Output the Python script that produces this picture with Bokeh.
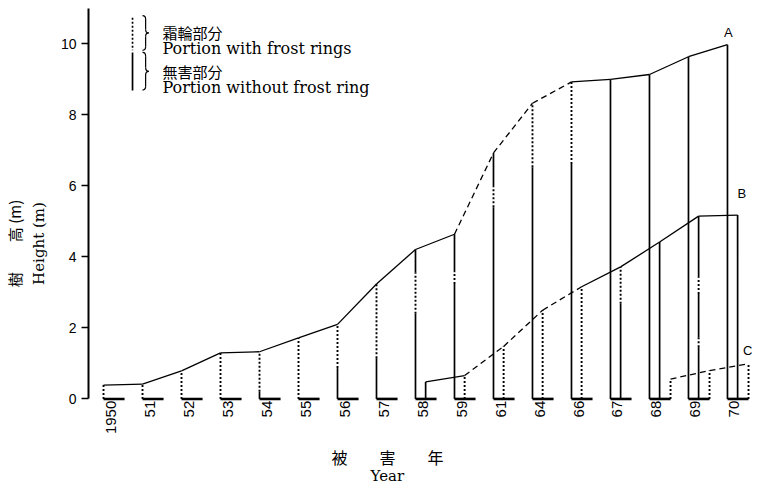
import math
from bokeh.plotting import figure
from bokeh.models import Range1d, LinearAxis, FixedTicker, ColumnDataSource
from bokeh.core.properties import value
from bokeh.embed import file_html
from bokeh.resources import INLINE

# ---------------- data ----------------
years = ["1950", "51", "52", "53", "54", "55", "56", "57", "58", "59",
         "61", "64", "66", "67", "68", "69", "70"]

# tree heights (m) at each damage year
height_A = [0.39, 0.42, 0.79, 1.30, 1.33, 1.72, 2.10, 3.24, 4.21, 4.64,
            6.93, 8.33, 8.93, 9.00, 9.14, 9.64, 9.98]
height_B = [0.48, 0.66, 1.48, 2.50, 3.16, 3.72, 4.42, 5.15, 5.18]   # from 1958
height_C = [0.56, 0.80, 0.99]                                       # from 1968
first_B = "58"
first_C = "68"

# portions of the stem with frost rings (from, to) in m, per year
frost_A = [[(0, 0.39)], [(0, 0.42)], [(0, 0.79)], [(0, 1.30)], [(0.20, 1.33)],
           [(0, 1.72)], [(0.87, 2.10)], [(1.15, 3.24)], [(2.40, 3.57)],
           [(3.24, 3.57)], [(5.40, 5.97)], [(6.53, 8.33)], [(6.62, 8.93)],
           [], [], [], []]
frost_B = [[], [(0, 0.66)], [(0, 1.48)], [(0, 2.50)], [(0, 3.16)],
           [(2.68, 3.72)], [], [(1.46, 1.74), (2.96, 3.43)], []]
frost_C = [[(0, 0.56)], [(0, 0.80)], [(0, 0.99)]]

# style of the line joining the tops between consecutive years
top_style_A = ["solid"] * 9 + ["dashed"] * 3 + ["solid"] * 4
top_style_B = ["solid", "dashed", "dashed", "dashed", "solid", "solid", "solid", "solid"]
top_style_C = ["dashed", "dashed"]

y_ticks = [0, 2, 4, 6, 8, 10]

# ---------------- layout constants ----------------
OFF_A, OFF_B, OFF_C = 0.0, 0.26, 0.54
DOT = "2 2"
DASH = "6 4"
SERIF = "DejaVu Serif"
JP = "Noto Sans CJK JP"

p = figure(width=757, height=486, output_backend="svg", toolbar_location=None,
           x_range=Range1d(-0.385, 16.77), y_range=Range1d(-2.466, 11.224),
           x_axis_location=None, min_border_left=88, min_border_right=0,
           min_border_top=0, min_border_bottom=0)
p.grid.visible = False
p.outline_line_color = None
p.background_fill_color = "white"
p.border_fill_color = "white"

# ---- y axis ----
ya = p.yaxis[0]
ya.ticker = FixedTicker(ticks=y_ticks)
ya.bounds = (0, 11.0)
ya.axis_line_width = 2
ya.axis_line_color = "black"
ya.major_tick_out = 7
ya.major_tick_in = 0
ya.major_tick_line_width = 1.5
ya.minor_tick_out = 0
ya.minor_tick_in = 0
ya.minor_tick_line_color = None
ya.major_label_standoff = 5
ya.major_label_text_font = "Liberation Sans"
ya.major_label_text_font_size = "14px"
ya.major_label_text_color = "black"


def label_axis(text, font, size, standoff):
    ax = LinearAxis(ticker=FixedTicker(ticks=[]), axis_line_color=None,
                    major_tick_line_color=None, minor_tick_line_color=None,
                    major_tick_out=0, major_tick_in=0, minor_tick_out=0, minor_tick_in=0,
                    major_label_standoff=0, major_label_text_font_size="0px",
                    axis_label=text, axis_label_standoff=standoff,
                    axis_label_text_font=font, axis_label_text_font_size=size,
                    axis_label_text_font_style="normal", axis_label_text_color="#000000",
                    bounds=(-0.6, 9.4))
    p.add_layout(ax, "left")


label_axis("Height (m)", SERIF, "15px", 10)
label_axis("樹　　高 (m)", JP, "15px", 2)


# ---- verticals ----
def split(h, frost):
    solid, dotted = [], []
    cur = 0.0
    for a, b in sorted(frost):
        if a > cur:
            solid.append((cur, a))
        dotted.append((a, b))
        cur = b
    if cur < h:
        solid.append((cur, h))
    return solid, dotted


sol = dict(x0=[], y0=[], x1=[], y1=[])
dot = dict(x0=[], y0=[], x1=[], y1=[])


def add_tree(start, heights, frosts, off):
    for k, (h, fr) in enumerate(zip(heights, frosts)):
        x = start + k + off
        s, d = split(h, fr)
        for a, b in s:
            sol["x0"].append(x); sol["x1"].append(x); sol["y0"].append(a); sol["y1"].append(b)
        for a, b in d:
            dot["x0"].append(x); dot["x1"].append(x); dot["y0"].append(a); dot["y1"].append(b)


iB = years.index(first_B)
iC = years.index(first_C)
add_tree(0, height_A, frost_A, OFF_A)
add_tree(iB, height_B, frost_B, OFF_B)
add_tree(iC, height_C, frost_C, OFF_C)

p.segment(x0="x0", y0="y0", x1="x1", y1="y1", source=ColumnDataSource(sol),
          line_color="black", line_width=1.7)
p.segment(x0="x0", y0="y0", x1="x1", y1="y1", source=ColumnDataSource(dot),
          line_color="black", line_width=1.9, line_dash=DOT)

# ---- top connecting lines ----
tops = {"solid": dict(x0=[], y0=[], x1=[], y1=[]), "dashed": dict(x0=[], y0=[], x1=[], y1=[])}


def add_tops(start, heights, styles, off):
    for k, st in enumerate(styles):
        d = tops[st]
        d["x0"].append(start + k + off); d["y0"].append(heights[k])
        d["x1"].append(start + k + 1 + off); d["y1"].append(heights[k + 1])


add_tops(0, height_A, top_style_A, OFF_A)
add_tops(iB, height_B, top_style_B, OFF_B)
add_tops(iC, height_C, top_style_C, OFF_C)
p.segment(x0="x0", y0="y0", x1="x1", y1="y1", source=ColumnDataSource(tops["solid"]),
          line_color="black", line_width=1.3)
p.segment(x0="x0", y0="y0", x1="x1", y1="y1", source=ColumnDataSource(tops["dashed"]),
          line_color="black", line_width=1.3, line_dash=DASH)

# ---- base lines ----
xs = list(range(len(years)))
p.segment(x0=xs, y0=[0] * len(xs), x1=[x + OFF_C for x in xs], y1=[0] * len(xs),
          line_color="black", line_width=2.6)

# ---- tree letters ----
p.text(x=[len(years) - 1 + OFF_A + 0.02], y=[height_A[-1] + 0.35], text=["A"],
       text_font=value("Liberation Sans"), text_font_size="13px", text_align="center",
       text_baseline="middle", text_color="black")
p.text(x=[len(years) - 1 + 0.37], y=[height_B[-1] + 0.6], text=["B"],
       text_font=value("Liberation Sans"), text_font_size="13px", text_align="center",
       text_baseline="middle", text_color="black")
p.text(x=[len(years) - 1 + 0.52], y=[height_C[-1] + 0.38], text=["C"],
       text_font=value("Liberation Sans"), text_font_size="13px", text_align="center",
       text_baseline="middle", text_color="black")

# ---- x tick labels (vertical) ----
p.text(x=[x + 0.18 for x in xs], y=[-0.05] * len(xs), text=years, angle=math.pi / 2,
       text_font=value("Liberation Sans"), text_font_size="15px", text_align="right",
       text_baseline="middle", text_color="black")
p.text(x=[7.28], y=[-1.63], text=["被　　害　　年"], text_font=value(JP),
       text_font_size="16px", text_align="center", text_baseline="middle", text_color="black")
p.text(x=[7.28], y=[-2.18], text=["Year"], text_font=value(SERIF),
       text_font_size="15px", text_align="center", text_baseline="middle", text_color="black")

# ---- legend ----
LX = 0.744
p.segment(x0=[LX], y0=[10.74], x1=[LX], y1=[9.82], line_color="black", line_width=1.7, line_dash=DOT)
p.segment(x0=[LX], y0=[9.76], x1=[LX], y1=[8.69], line_color="black", line_width=1.7)


def brace(x0, ytop, ybot, w):
    ym = (ytop + ybot) / 2
    k = (ytop - ybot) * 0.1
    xm = x0 + w / 2
    p.quadratic(x0=[x0, xm, xm + w / 2, xm], y0=[ytop, ym + k, ym, ybot + k],
                x1=[xm, xm + w / 2, xm, x0], y1=[ytop - k, ym, ym - k, ybot],
                cx=[xm, xm, xm, xm], cy=[ytop, ym, ym, ybot],
                line_color="black", line_width=1.2)
    p.segment(x0=[xm, xm], y0=[ytop - k, ym - k], x1=[xm, xm], y1=[ym + k, ybot + k],
              line_color="black", line_width=1.2)


brace(1.0, 10.80, 9.82, 0.16)
brace(1.0, 9.76, 8.70, 0.16)

p.text(x=[1.51], y=[10.32], text=["霜輪部分"], text_font=value(JP),
       text_font_size="15px", text_align="left", text_baseline="middle", text_color="black")
p.text(x=[1.51], y=[9.88], text=["Portion with frost rings"], text_font=value(SERIF),
       text_font_size="16px", text_align="left", text_baseline="middle", text_color="black")
p.text(x=[1.51], y=[9.22], text=["無害部分"], text_font=value(JP),
       text_font_size="15px", text_align="left", text_baseline="middle", text_color="black")
p.text(x=[1.51], y=[8.77], text=["Portion without frost ring"], text_font=value(SERIF),
       text_font_size="16px", text_align="left", text_baseline="middle", text_color="black")

open("out.html", "w").write(file_html(p, INLINE))
